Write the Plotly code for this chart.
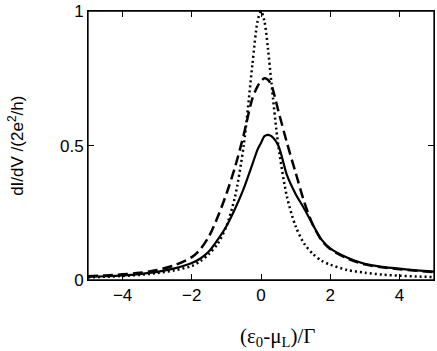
import plotly.graph_objects as go

# 横軸 (ε0-μL)/Γ
x_values = [-5, -4.5, -4, -3.5, -3, -2.5, -2, -1.75, -1.5, -1.25, -1, -0.75, -0.5, -0.25, -0.1,
            0, 0.1, 0.2, 0.3, 0.5, 0.75, 1, 1.25, 1.5, 1.75, 2, 2.5, 3, 3.5, 4, 4.5, 5]

# 実線
solid_values = [0.012, 0.014, 0.017, 0.022, 0.030, 0.043, 0.063, 0.080, 0.107, 0.150, 0.200, 0.265,
                0.340, 0.430, 0.485, 0.510, 0.535, 0.540, 0.535, 0.500, 0.390, 0.320, 0.265, 0.205,
                0.150, 0.118, 0.083, 0.060, 0.049, 0.042, 0.036, 0.031]
# 破線
dashed_values = [0.014, 0.017, 0.021, 0.027, 0.037, 0.055, 0.085, 0.115, 0.163, 0.235, 0.320, 0.420,
                 0.540, 0.675, 0.720, 0.740, 0.750, 0.745, 0.725, 0.630, 0.510, 0.400, 0.290, 0.205,
                 0.148, 0.115, 0.080, 0.058, 0.047, 0.040, 0.034, 0.029]
# 点線
dotted_values = [0.010, 0.012, 0.015, 0.019, 0.026, 0.036, 0.052, 0.070, 0.097, 0.135, 0.200, 0.310,
                 0.500, 0.800, 0.962, 1.000, 0.962, 0.862, 0.735, 0.500, 0.310, 0.200, 0.135, 0.097,
                 0.072, 0.057, 0.037, 0.027, 0.020, 0.016, 0.013, 0.011]

x_ticks = [-4, -2, 0, 2, 4]
y_ticks = [0, 0.5, 1]
y_tick_labels = ["0", "0.5", "1"]

fig = go.Figure()
fig.add_trace(go.Scatter(
    x=x_values, y=dotted_values, mode="lines",
    line=dict(color="black", width=2.5, dash="2px,3px", shape="spline", smoothing=0.8),
))
fig.add_trace(go.Scatter(
    x=x_values, y=dashed_values, mode="lines",
    line=dict(color="black", width=2.5, dash="10px,5px", shape="spline", smoothing=0.8),
))
fig.add_trace(go.Scatter(
    x=x_values, y=solid_values, mode="lines",
    line=dict(color="black", width=2.2, shape="spline", smoothing=0.8),
))

axis_common = dict(
    showline=True, linecolor="black", linewidth=1, mirror="ticks",
    ticks="inside", ticklen=6, tickcolor="black", tickwidth=1,
    showgrid=False, zeroline=False,
    tickfont=dict(family="Liberation Sans, Arial", size=17, color="black"),
)

fig.update_layout(
    width=437, height=351,
    margin=dict(l=88, r=2, t=9, b=71),
    paper_bgcolor="white", plot_bgcolor="white",
    showlegend=False,
    xaxis=dict(range=[-5, 5], tickvals=x_ticks, **axis_common),
    yaxis=dict(range=[0, 1.0005], tickvals=y_ticks, ticktext=y_tick_labels, **axis_common),
)

# 枠線
fig.add_shape(type="rect", xref="paper", yref="paper", x0=0, y0=0, x1=1, y1=1,
              line=dict(color="black", width=1.3), layer="above")

# 軸ラベル
fig.add_annotation(
    text="(ε<sub>0</sub>-μ<sub>L</sub>)/Γ",
    xref="paper", yref="paper", x=0.547, y=-0.155,
    xanchor="center", yanchor="top", showarrow=False,
    font=dict(family="Liberation Serif, Times New Roman", size=21, color="black"),
)
fig.add_annotation(
    text="dI/dV /(2e<sup>2</sup>/h)",
    xref="paper", yref="paper", x=-0.21, y=0.5, textangle=-90,
    xanchor="center", yanchor="middle", showarrow=False,
    font=dict(family="Liberation Sans, Arial", size=17, color="black"),
)

# bodyの余白を消す
fig.write_html("out.html", config={"displayModeBar": False},
               post_script="document.body.style.margin='0';")
